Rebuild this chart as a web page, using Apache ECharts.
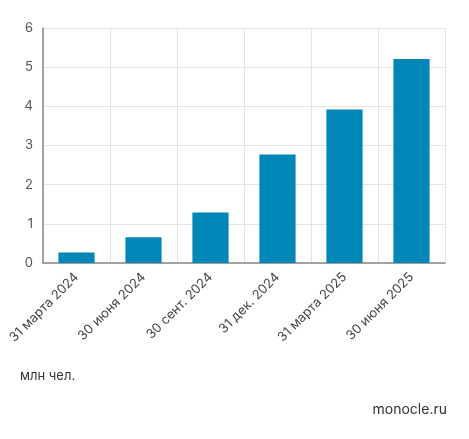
<!DOCTYPE html>
<html><head><meta charset="utf-8">
<script src="https://cdn.jsdelivr.net/npm/echarts@6/dist/echarts.min.js"></script>
<style>html,body{margin:0;padding:0;background:#fff}#c{width:469px;height:439px}</style>
</head><body><div id="c"></div>
<script>
const categories = ['31 марта 2024','30 июня 2024','30 сент. 2024','31 дек. 2024','31 марта 2025','30 июня 2025'];
const values = [0.27, 0.66, 1.29, 2.77, 3.92, 5.21];
const chart = echarts.init(document.getElementById('c'));
chart.setOption({
  animation:false,
  grid:{left:43,right:24,top:28,bottom:176},
  xAxis:{type:'category',data:categories,
    axisLine:{lineStyle:{color:'#8a8a8a',width:1.5}},axisTick:{show:false},
    splitLine:{show:true,lineStyle:{color:'#e3e3e3'}},
    axisLabel:{rotate:45,color:'#444',fontSize:13,fontFamily:'Inter',margin:12,interval:0}},
  yAxis:{type:'value',min:0,max:6,interval:1,
    axisLine:{show:true,lineStyle:{color:'#8a8a8a',width:1.5}},
    splitLine:{lineStyle:{color:'#e3e3e3'}},
    axisLabel:{color:'#555',fontSize:13,fontFamily:'Inter',margin:10}},
  series:[{type:'bar',data:values,barWidth:'54%',itemStyle:{color:'#0087b8'}}],
  graphic:[
    {type:'text',left:20,top:370,style:{text:'млн чел.',fontSize:13,fontFamily:'Inter',fill:'#333'}},
    {type:'text',right:22,top:403,style:{text:'monocle.ru',fontSize:14,fontFamily:'Inter',fill:'#333'}}
  ]
});
</script></body></html>
